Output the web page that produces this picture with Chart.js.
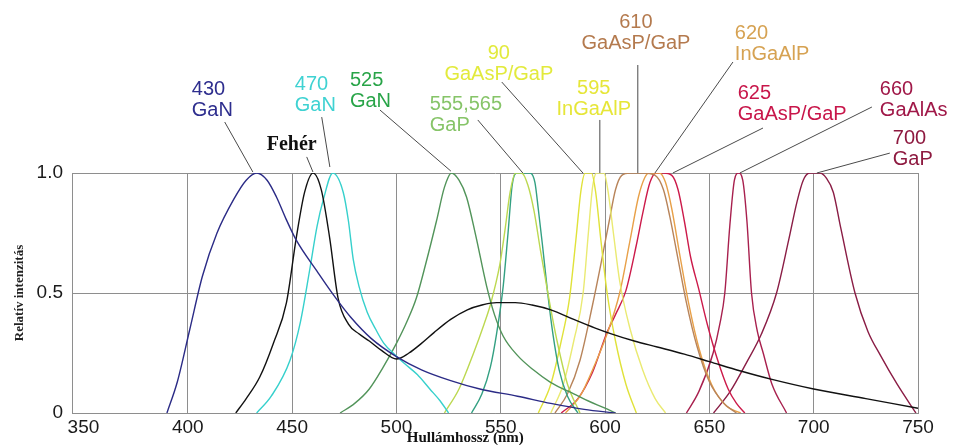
<!DOCTYPE html>
<html>
<head>
<meta charset="utf-8">
<script src="https://cdn.jsdelivr.net/npm/chart.js@4.4.1/dist/chart.umd.min.js"></script>
<style>
  html, body { margin: 0; padding: 0; background: #ffffff; }
  #wrap { width: 953px; height: 445px; position: relative; }
</style>
</head>
<body>
<div id="wrap"><canvas id="spectra"></canvas></div>
<script>
// Axis ticks
const xTickValues = [350, 400, 450, 500, 550, 600, 650, 700, 750];
const yTickValues = [0, 0.5, 1];
const yTickLabels = ['0', '0.5', '1.0'];

// Emission spectra: wavelength (nm) and relative intensity
const wl430 = [390, 395, 401, 407, 414, 422, 428, 433, 438, 442.5, 447, 452, 462, 470, 478, 488, 500, 512, 526, 540, 558, 574, 590, 605];
const rel430 = [0, 0.13, 0.35, 0.57, 0.75, 0.89, 0.97, 1.0, 0.97, 0.90, 0.81, 0.72, 0.59, 0.49, 0.40, 0.31, 0.235, 0.18, 0.135, 0.10, 0.07, 0.04, 0.015, 0];

const wlWhite = [423, 428, 434.5, 441, 447.3, 452, 456, 460, 464, 468, 472, 477, 482, 487, 493, 500, 506, 512, 518, 526, 534, 541, 548, 557, 565, 574, 585, 595, 603, 614, 625, 638, 650, 665, 680, 700, 725, 750];
const relWhite = [0, 0.06, 0.15, 0.29, 0.46, 0.73, 0.92, 1.0, 0.93, 0.73, 0.48, 0.37, 0.33, 0.30, 0.26, 0.225, 0.25, 0.29, 0.335, 0.39, 0.43, 0.45, 0.46, 0.46, 0.45, 0.43, 0.39, 0.355, 0.33, 0.30, 0.275, 0.245, 0.214, 0.175, 0.14, 0.10, 0.06, 0.02];

const wl470 = [433, 440, 449, 454, 458.5, 462, 465, 469.5, 474.5, 477, 479.3, 482, 486, 490, 494, 499, 504, 510, 516, 521, 525];
const rel470 = [0, 0.07, 0.22, 0.38, 0.6, 0.78, 0.89, 1.0, 0.92, 0.80, 0.64, 0.53, 0.42, 0.35, 0.29, 0.245, 0.205, 0.16, 0.10, 0.05, 0];

const wl525 = [473, 480, 487, 493.6, 500, 505, 509.6, 514, 519.2, 523, 526.4, 530, 533.6, 538, 543.2, 547, 551.2, 558, 565.6, 573.5, 580, 585, 592, 600, 605];
const rel525 = [0, 0.04, 0.10, 0.19, 0.29, 0.38, 0.48, 0.62, 0.80, 0.94, 1.0, 0.97, 0.90, 0.74, 0.53, 0.41, 0.32, 0.24, 0.18, 0.13, 0.10, 0.08, 0.05, 0.02, 0];

const wl555 = [523, 530, 537, 542, 545, 549.6, 552, 554.5, 557, 560, 563, 566, 569, 573, 577, 582, 588];
const rel555 = [0, 0.1, 0.25, 0.37, 0.45, 0.62, 0.76, 0.92, 1.0, 1.0, 0.95, 0.84, 0.68, 0.48, 0.3, 0.12, 0];

const wl565 = [536, 541, 545, 548, 551.2, 553.5, 555.5, 558, 564, 566.4, 568, 570, 572.5, 575, 578, 582, 587];
const rel565 = [0, 0.08, 0.19, 0.33, 0.53, 0.75, 0.95, 1.0, 1.0, 0.96, 0.85, 0.70, 0.5, 0.33, 0.18, 0.07, 0];

const wl590 = [568, 574, 579, 583, 586, 588.5, 590.5, 593.5, 595.5, 598, 601, 605, 610, 615];
const rel590 = [0, 0.12, 0.3, 0.48, 0.72, 0.93, 1.0, 1.0, 0.92, 0.72, 0.5, 0.3, 0.12, 0];

const wl595 = [574, 580, 585, 589.5, 592, 594, 596, 599.5, 601.5, 604, 607, 612, 618, 624, 629];
const rel595 = [0, 0.12, 0.3, 0.5, 0.75, 0.94, 1.0, 1.0, 0.92, 0.75, 0.55, 0.35, 0.18, 0.06, 0];

const wl610 = [576, 582, 588, 594, 598, 602, 605, 608, 612, 618, 624, 628, 631, 635, 639, 644, 650, 657, 663];
const rel610 = [0, 0.08, 0.22, 0.45, 0.62, 0.8, 0.93, 0.99, 1.0, 1.0, 0.99, 0.93, 0.82, 0.64, 0.46, 0.28, 0.13, 0.04, 0];

const wl620 = [581, 588, 595, 601, 607, 612, 616, 619, 621, 626, 629, 632, 636, 640, 645, 651, 658, 665];
const rel620 = [0, 0.07, 0.2, 0.33, 0.5, 0.72, 0.9, 0.98, 1.0, 1.0, 0.96, 0.85, 0.65, 0.46, 0.27, 0.12, 0.03, 0];

const wl625 = [579, 587, 594, 600.7, 605, 610, 615, 618, 621.5, 624.5, 628, 632, 635, 638, 641, 644.8, 649, 654, 659, 663, 667];
const rel625 = [0, 0.06, 0.17, 0.33, 0.41, 0.51, 0.7, 0.83, 0.96, 1.0, 1.0, 0.99, 0.93, 0.8, 0.65, 0.52, 0.37, 0.22, 0.1, 0.04, 0];

const wl660 = [639, 645, 651.8, 655, 657.4, 659.8, 662, 664, 666, 668, 670.2, 673, 675.8, 680, 687];
const rel660 = [0, 0.09, 0.25, 0.37, 0.5, 0.78, 0.97, 1.0, 0.97, 0.8, 0.5, 0.34, 0.25, 0.12, 0];

const wl700 = [652, 660, 667.8, 675, 682.2, 688, 692, 695, 698, 703, 706, 709.4, 713, 719.8, 726, 732, 740, 749];
const rel700 = [0, 0.09, 0.21, 0.33, 0.5, 0.72, 0.88, 0.97, 1.0, 1.0, 0.98, 0.92, 0.77, 0.5, 0.34, 0.24, 0.12, 0];

// Series list with line colours
const series = [
  { name: '430 GaN', wl: wl430, rel: rel430, color: '#2b2b86' },
  { name: 'Fehér', wl: wlWhite, rel: relWhite, color: '#111111' },
  { name: '470 GaN', wl: wl470, rel: rel470, color: '#36d0cc' },
  { name: '525 GaN', wl: wl525, rel: rel525, color: '#52945a' },
  { name: '555 GaP', wl: wl555, rel: rel555, color: '#bcd850' },
  { name: '565 GaP', wl: wl565, rel: rel565, color: '#33a082' },
  { name: '590 GaAsP/GaP', wl: wl590, rel: rel590, color: '#e0e23a' },
  { name: '595 InGaAlP', wl: wl595, rel: rel595, color: '#eaea72' },
  { name: '610 GaAsP/GaP', wl: wl610, rel: rel610, color: '#b8845a' },
  { name: '620 InGaAlP', wl: wl620, rel: rel620, color: '#e8a048' },
  { name: '625 GaAsP/GaP', wl: wl625, rel: rel625, color: '#cc1a4a' },
  { name: '660 GaAlAs', wl: wl660, rel: rel660, color: '#a8204e' },
  { name: '700 GaP', wl: wl700, rel: rel700, color: '#8a1d45' }
];

const datasets = series.map(s => ({
  label: s.name,
  data: s.wl.map((w, i) => ({ x: w, y: s.rel[i] })),
  borderColor: s.color,
  borderWidth: 1.4,
  pointRadius: 0,
  fill: false,
  cubicInterpolationMode: 'monotone'
}));

// Callout labels with leader lines, placed in axis units
const SANS = '"Liberation Sans", Arial, sans-serif';
const SERIF = '"Liberation Serif", "Times New Roman", serif';
const callouts = [
  { lines: ['430', 'GaN'], color: '#2e2e8e', at: [401.9, 1.346], align: 'left', from: [417.7, 1.2125], to: [431.2, 1.004] },
  { lines: ['Fehér'], color: '#111111', at: [449.8, 1.117], align: 'center', font: 'bold 20px ' + SERIF, from: [457.0, 1.067], to: [460.0, 1.004] },
  { lines: ['470', 'GaN'], color: '#3fd2d2', at: [451.3, 1.367], align: 'left', from: [464.2, 1.233], to: [468.1, 1.025] },
  { lines: ['525', 'GaN'], color: '#28a448', at: [477.7, 1.3875], align: 'left', from: [492.1, 1.2625], to: [526.1, 1.008] },
  { lines: ['555,565', 'GaP'], color: '#86c468', at: [516.0, 1.2875], align: 'left', from: [539.0, 1.221], to: [560.6, 1.0] },
  { lines: ['90', 'GaAsP/GaP'], color: '#e2ea3c', at: [549.1, 1.5], align: 'center', from: [550.5, 1.379], to: [589.4, 1.0] },
  { lines: ['595', 'InGaAlP'], color: '#e6e638', at: [594.6, 1.354], align: 'center', from: [597.5, 1.221], to: [597.5, 1.0] },
  { lines: ['610', 'GaAsP/GaP'], color: '#b47a4e', at: [614.8, 1.629], align: 'center', from: [615.7, 1.45], to: [615.7, 1.0] },
  { lines: ['620', 'InGaAlP'], color: '#d6a252', at: [662.2, 1.583], align: 'left', from: [661.3, 1.4625], to: [623.9, 1.0] },
  { lines: ['625', 'GaAsP/GaP'], color: '#c8164a', at: [663.6, 1.333], align: 'left', from: [675.7, 1.1875], to: [632.5, 1.0] },
  { lines: ['660', 'GaAlAs'], color: '#a01848', at: [731.7, 1.346], align: 'left', from: [727.9, 1.275], to: [664.6, 1.0] },
  { lines: ['700', 'GaP'], color: '#8e1a40', at: [737.9, 1.142], align: 'left', from: [736.5, 1.083], to: [701.5, 1.0] }
];

const calloutPlugin = {
  id: 'callouts',
  afterDatasetsDraw(chart) {
    const { ctx, scales: { x, y }, chartArea } = chart;
    ctx.save();
    callouts.forEach(c => {
      ctx.strokeStyle = '#4a4a4a';
      ctx.lineWidth = 1;
      ctx.beginPath();
      ctx.moveTo(x.getPixelForValue(c.from[0]), y.getPixelForValue(c.from[1]));
      ctx.lineTo(x.getPixelForValue(c.to[0]), y.getPixelForValue(c.to[1]));
      ctx.stroke();
      ctx.fillStyle = c.color;
      ctx.font = c.font || ('20px ' + SANS);
      ctx.textAlign = c.align;
      ctx.textBaseline = 'middle';
      const px = x.getPixelForValue(c.at[0]);
      const py = y.getPixelForValue(c.at[1]);
      c.lines.forEach((t, i) => ctx.fillText(t, px, py + i * 21));
    });
    // wavelength axis title
    ctx.fillStyle = '#111111';
    ctx.font = 'bold 15px ' + SERIF;
    ctx.textAlign = 'center';
    ctx.textBaseline = 'middle';
    ctx.fillText('Hullámhossz (nm)', x.getPixelForValue(533), chartArea.bottom + 25);
    ctx.restore();
  }
};

const GRID = '#8e8e8e';

new Chart(document.getElementById('spectra'), {
  type: 'line',
  data: { datasets },
  options: {
    responsive: true,
    maintainAspectRatio: false,
    animation: false,
    layout: { padding: { top: 173, right: 35, left: 0, bottom: 0 } },
    plugins: { legend: { display: false }, tooltip: { enabled: false } },
    scales: {
      x: {
        type: 'linear',
        min: 344.5,
        max: 750,
        afterBuildTicks: s => { s.ticks = xTickValues.map(v => ({ value: v })); },
        afterFit: s => { s.height = 32; },
        ticks: {
          color: '#1a1a1a',
          padding: 3,
          maxRotation: 0,
          autoSkip: false,
          font: { family: SANS, size: 19 }
        },
        grid: {
          drawTicks: false,
          color: ctx => (ctx.tick && ctx.tick.value === 350 ? 'rgba(0,0,0,0)' : GRID),
          lineWidth: 1
        },
        border: { display: true, color: GRID, width: 1 }
      },
      y: {
        min: 0,
        max: 1,
        afterBuildTicks: s => { s.ticks = yTickValues.map(v => ({ value: v })); },
        afterFit: s => { s.width = 72; },
        ticks: {
          color: '#1a1a1a',
          padding: 9,
          font: { family: SANS, size: 19 },
          callback: v => yTickLabels[yTickValues.indexOf(v)]
        },
        grid: { drawTicks: false, color: GRID, lineWidth: 1 },
        border: { display: true, color: GRID, width: 1 },
        title: {
          display: true,
          text: 'Relatív intenzitás',
          color: '#222222',
          font: { family: SERIF, size: 13, weight: 'bold' },
          padding: { top: 12, bottom: 0 }
        }
      }
    }
  },
  plugins: [calloutPlugin]
});
</script>
</body>
</html>
